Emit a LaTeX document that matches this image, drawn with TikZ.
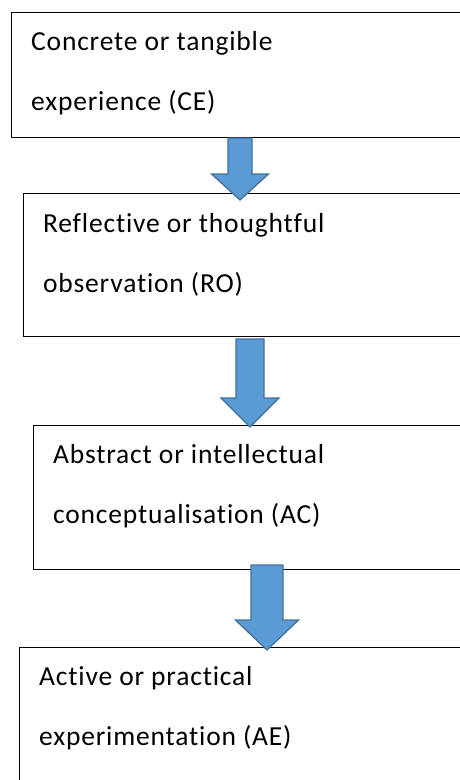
\documentclass[tikz,border=0pt]{standalone}
\usepackage{fontspec}
\setmainfont{Carlito}[LetterSpace=3, Ligatures=NoCommon]
\usetikzlibrary{positioning, calc}

\definecolor{arrfill}{HTML}{5B9BD5}
\definecolor{arrline}{HTML}{41719C}

% block arrow from #1 (tail centre) to #2 (tip): shaft half, head half, head length
\newcommand{\stagearrow}[5]{%
  \draw[blockarr] let \p1=(#1), \p2=(#2) in
    (\x1-#3pt,\y1) -- (\x1+#3pt,\y1) -- (\x1+#3pt,\y2+#5pt) -- (\x1+#4pt,\y2+#5pt)
    -- (\x2,\y2) -- (\x1-#4pt,\y2+#5pt) -- (\x1-#3pt,\y2+#5pt) -- cycle;}

\begin{document}
\begin{tikzpicture}[x=1pt, y=-1pt,
    stage/.style={draw, rectangle, line width=1pt, outer sep=0pt, anchor=north west, minimum width=520pt},
    lbl/.style={anchor=base west, inner sep=0pt, font=\fontsize{27.5}{30}\selectfont},
    blockarr/.style={fill=arrfill, draw=arrline, line width=1.3pt, line join=miter}
  ]
  \useasboundingbox (0,0) rectangle (460,780);
  \begin{scope}
  \clip (0,0) rectangle (460,780);
  % Stages
  \node[stage, minimum height=125pt] (ce) at (11,12) {};
  \node[stage, minimum height=143pt] (ro) at (23,193) {};
  \node[stage, minimum height=144pt] (ac) at (33,425) {};
  \node[stage, minimum height=180pt] (ae) at (19,647) {};
  % Labels
  \node[lbl] (ce1) at ($(ce.north west)+(20,38)$) {Concrete or tangible};
  \node[lbl] (ce2) at ($(ce1.base west)+(0,60)$) {experience (CE)};
  \node[lbl] (ro1) at ($(ro.north west)+(20,39)$) {Reflective or thoughtful};
  \node[lbl] (ro2) at ($(ro1.base west)+(0,60)$) {observation (RO)};
  \node[lbl] (ac1) at ($(ac.north west)+(20,38)$) {Abstract or intellectual};
  \node[lbl] (ac2) at ($(ac1.base west)+(0,60)$) {conceptualisation (AC)};
  \node[lbl] (ae1) at ($(ae.north west)+(20,38)$) {Active or practical};
  \node[lbl] (ae2) at ($(ae1.base west)+(0,60)$) {experimentation (AE)};
  % Arrows
  \coordinate (t1) at (240,138);
  \coordinate (h1) at (240,200);
  \coordinate (t2) at (250,339);
  \coordinate (h2) at (250,427);
  \coordinate (t3) at (267,565);
  \coordinate (h3) at (267,650);
  \stagearrow{t1}{h1}{12}{28.5}{26}
  \stagearrow{t2}{h2}{14}{29}{29}
  \stagearrow{t3}{h3}{16}{31.5}{30}
  \end{scope}
\end{tikzpicture}
\end{document}
